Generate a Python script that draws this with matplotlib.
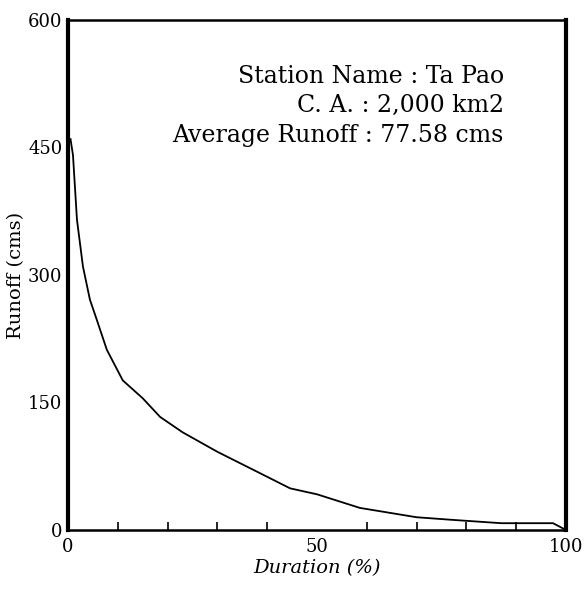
import matplotlib.pyplot as plt

# flow duration curve
duration = [0.5, 1.0, 1.8, 3.0, 4.4, 5.8, 7.8, 11, 15, 18.5, 23, 30,
            38.5, 44.6, 50, 58.6, 70, 77, 87, 97.4, 100]
runoff = [460, 441, 365, 310, 271, 247, 212, 176, 155, 133, 115, 92,
          67, 49, 42, 26, 15, 12, 8, 8, 0]

info = ["Station Name : Ta Pao", "C. A. : 2,000 km2",
        "Average Runoff : 77.58 cms"]

plt.rcParams['font.family'] = ['DejaVu Serif']

fig = plt.figure(figsize=(5.85, 5.91), dpi=100)
ax = fig.add_axes([68 / 585, 1 - 530 / 591, 498 / 585, 510 / 591])

ax.plot(duration, runoff, color='black', lw=1.3)

ax.set_xlim(0, 100)
ax.set_ylim(0, 600)
ax.set_yticks([0, 150, 300, 450, 600])
ax.set_xticks([0, 50, 100])
ax.set_xticks(range(10, 100, 10), minor=True)
ax.tick_params(axis='y', length=0, pad=4, labelsize=13)
ax.tick_params(axis='x', which='major', length=0, pad=6, labelsize=13)
ax.tick_params(axis='x', which='minor', direction='in', length=6, width=1.2)

ax.spines['left'].set_linewidth(3)
ax.spines['right'].set_linewidth(3)
ax.spines['top'].set_linewidth(1.8)
ax.spines['bottom'].set_linewidth(1.8)

ax.set_xlabel('Duration (%)', fontsize=14, style='italic', labelpad=2)
ax.set_ylabel('Runoff (cms)', fontsize=14, labelpad=2)

for i, line in enumerate(info):
    ax.text(0.875, 0.89 - i * 0.058, line, transform=ax.transAxes,
            ha='right', va='center', fontsize=17)

fig.savefig('out.png', dpi=100)
